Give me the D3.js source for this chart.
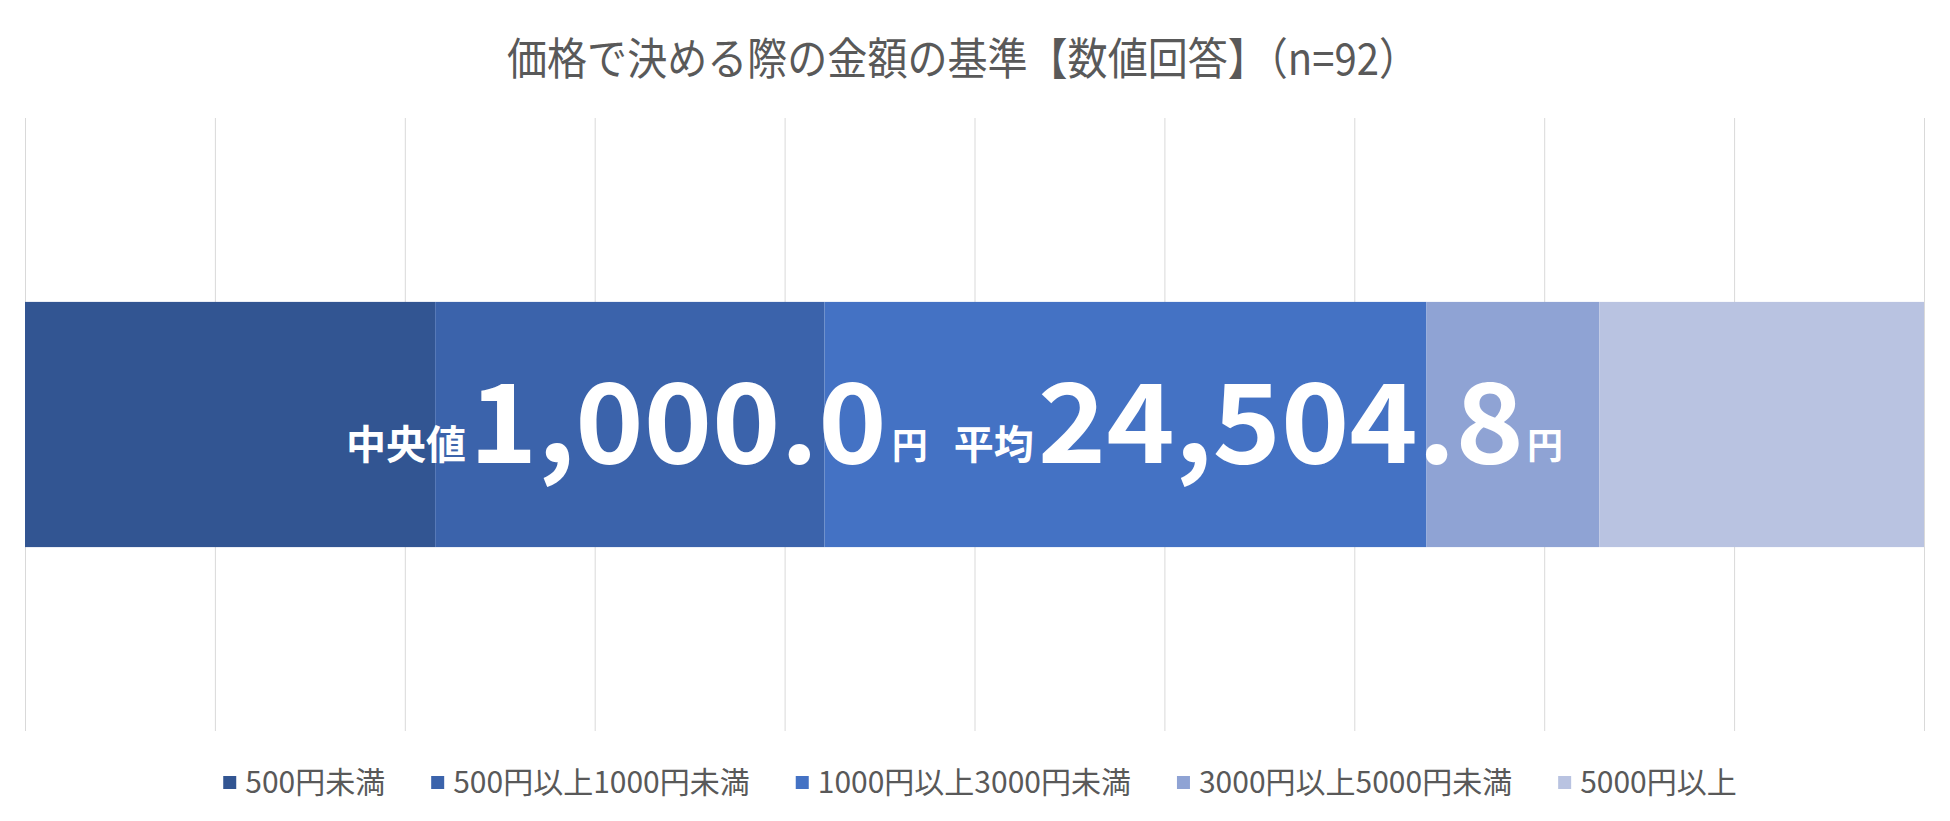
<!DOCTYPE html>
<html>
<head>
<meta charset="utf-8">
<script src="https://cdn.jsdelivr.net/npm/d3@7"></script>
<style>
	body { margin: 0; background: #fff; }
	svg { display: block; font-family: "Noto Sans CJK JP", "Noto Sans", sans-serif; }
</style>
</head>
<body>
<svg id="chart" width="1950" height="821"></svg>
<script>

var title_text = "価格で決める際の金額の基準【数値回答】（n=92）";

var categories = ["500円未満", "500円以上1000円未満", "1000円以上3000円未満", "3000円以上5000円未満", "5000円以上"];

/* share of answers, % */
var shares = [21.6, 20.5, 31.7, 9.1, 17.1];

var colors = ["#325592", "#3b63ab", "#4472c4", "#8fa3d4", "#b9c3e1"];

var tick_values = [0, 10, 20, 30, 40, 50, 60, 70, 80, 90, 100];

var median_value = 1000.0;
var mean_value = 24504.8;

var svg = d3.select("#chart");

var margin = {left: 25, right: 26, top: 118, bottom: 90};
var W = 1950, H = 821;

var x = d3.scaleLinear().domain([0, 100]).range([margin.left, W - margin.right]);
var y = d3.scaleBand().domain(["all"]).range([margin.top, H - margin.bottom])
	.paddingInner(0.6).paddingOuter(0.3);

/* title */
svg.append("text")
	.attr("x", 963)
	.attr("y", 75)
	.attr("text-anchor", "middle")
	.attr("font-size", 44)
	.attr("fill", "#595959")
	.attr("textLength", 912)
	.attr("lengthAdjust", "spacingAndGlyphs")
	.text(title_text);

/* gridlines */
var grid = svg.append("g")
	.attr("transform", "translate(0," + (H - margin.bottom) + ")")
	.call(d3.axisBottom(x).tickValues(tick_values).tickSize(-(H - margin.bottom - margin.top)).tickFormat(""));
grid.select(".domain").remove();
grid.selectAll(".tick line").attr("stroke", "#d9d9d9").attr("stroke-width", 1);

/* stacked bar */
var ends = d3.cumsum(shares);
var segs = shares.map(function(d, i){ return {cat: categories[i], start: ends[i] - d, end: ends[i], color: colors[i]}; });

svg.append("g").selectAll("rect")
	.data(segs)
	.join("rect")
	.attr("x", function(d){ return x(d.start); })
	.attr("width", function(d){ return x(d.end) - x(d.start); })
	.attr("y", y("all"))
	.attr("height", y.bandwidth())
	.attr("fill", function(d){ return d.color; });

/* big label over the bar */
var fmt = d3.format(",.1f");
var pieces = [
	{t: "中央値", size: 40, gap: 3, dy: -4, big: false},
	{t: fmt(median_value), size: 110, gap: 5, dy: 0, big: true},
	{t: "円", size: 36, gap: 26, dy: -4, big: false},
	{t: "平均", size: 40, gap: 4, dy: -4, big: false},
	{t: fmt(mean_value), size: 110, gap: 3, dy: 0, big: true},
	{t: "円", size: 36, gap: 0, dy: -4, big: false}
];

var label = svg.append("g");
var baseY = 463;
var cx = 346;
pieces.forEach(function(p){
	var t = label.append("text")
		.attr("x", cx)
		.attr("y", baseY + p.dy)
		.attr("font-size", p.size)
		.attr("font-weight", "bold")
		.attr("fill", "#fff")
		.text(p.t);
	var w = t.node().getComputedTextLength();
	if (p.big){
		w = w * 1.055;
		t.attr("textLength", w).attr("lengthAdjust", "spacingAndGlyphs");
	}
	cx += w + p.gap;
});

/* legend */
var legend = svg.append("g");
var lx = 0;
var gap = 46;
categories.forEach(function(c, i){
	var g = legend.append("g");
	g.append("rect")
		.attr("x", lx).attr("y", -7)
		.attr("width", 13).attr("height", 13)
		.attr("fill", colors[i]);
	var t = g.append("text")
		.attr("x", lx + 22)
		.attr("y", 10)
		.attr("font-size", 30)
		.attr("fill", "#595959")
		.text(c);
	lx += 22 + t.node().getComputedTextLength() + gap;
});
lx -= gap;
legend.attr("transform", "translate(" + (980 - lx / 2) + ",783)");

</script>
</body>
</html>
